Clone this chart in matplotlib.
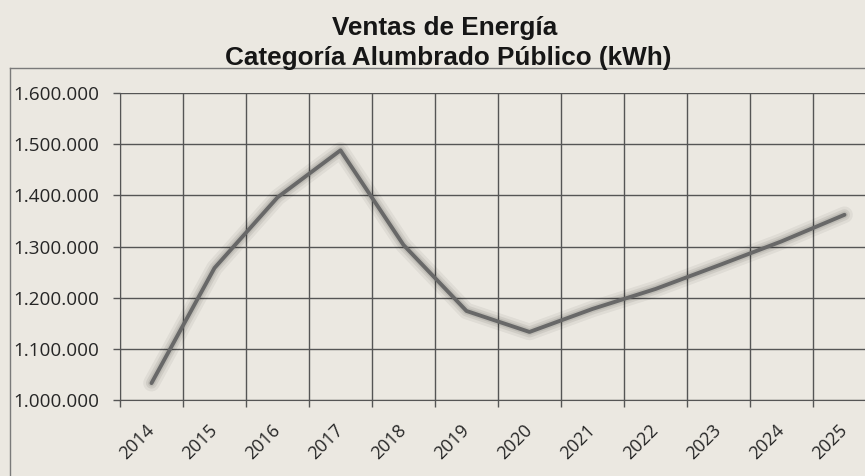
import matplotlib
matplotlib.use("Agg")
import matplotlib.pyplot as plt
from matplotlib.ticker import FuncFormatter, FixedLocator
from matplotlib.lines import Line2D

years = ["2014", "2015", "2016", "2017", "2018", "2019",
         "2020", "2021", "2022", "2023", "2024", "2025"]
ventas_kwh = [1033000, 1258000, 1396000, 1488000, 1303000, 1174000,
              1133000, 1178000, 1217000, 1263000, 1310000, 1362000]
y_ticks = [1000000, 1100000, 1200000, 1300000, 1400000, 1500000, 1600000]
title_lines = ["Ventas de Energía", "Categoría Alumbrado Público (kWh)"]

BG = "#ebe8e1"
GRID = "#555555"
LINE = "#686868"

fig = plt.figure(figsize=(8.65, 4.76), dpi=100, facecolor=BG)
W, H = 865, 476
ax = fig.add_axes([120 / W, 1 - 400 / H, 756 / W, 307 / H])
ax.set_facecolor(BG)

x = list(range(len(years)))
# soft shadow under line
ax.plot(x, ventas_kwh, color="#000000", lw=12, alpha=0.05, solid_capstyle="round", zorder=3)
ax.plot(x, ventas_kwh, color="#000000", lw=8, alpha=0.07, solid_capstyle="round", zorder=3)
ax.plot(x, ventas_kwh, color="#000000", lw=5, alpha=0.08, solid_capstyle="round", zorder=3)
ax.plot(x, ventas_kwh, color=LINE, lw=2.8, solid_capstyle="round", solid_joinstyle="round", zorder=4)

ax.set_xlim(-0.5, len(years) - 0.5)
ax.set_ylim(y_ticks[0], y_ticks[-1])

# y axis
ax.set_yticks(y_ticks)
ax.yaxis.set_major_formatter(FuncFormatter(lambda v, p: f"{int(v):,}".replace(",", ".")))
ax.tick_params(axis="y", length=5, width=1, color=GRID, pad=10,
               labelsize=13.6, labelcolor="#262626")

# x axis: boundaries as major ticks (grid), labels at centers as minor
ax.xaxis.set_major_locator(FixedLocator([i - 0.5 for i in range(len(years) + 1)]))
ax.xaxis.set_major_formatter(FuncFormatter(lambda v, p: ""))
ax.xaxis.set_minor_locator(FixedLocator(x))
ax.set_xticklabels(years, minor=True)
ax.tick_params(axis="x", which="major", length=5, width=1, color=GRID)
ax.tick_params(axis="x", which="minor", length=0, pad=20, labelsize=13, labelcolor="#262626")
for lab in ax.get_xticklabels(minor=True):
    lab.set_rotation(45)
    lab.set_ha("right")
    lab.set_va("center")
    lab.set_rotation_mode("anchor")
    lab.set_fontfamily("Open Sans")
for lab in ax.get_yticklabels():
    lab.set_fontfamily("Open Sans")

ax.grid(True, which="major", color=GRID, lw=1)
ax.set_axisbelow(True)
for s in ax.spines.values():
    s.set_visible(False)
ax.spines["left"].set_visible(True)
ax.spines["left"].set_color(GRID)
ax.spines["bottom"].set_visible(True)
ax.spines["bottom"].set_color(GRID)

# outer chart frame
fig.add_artist(Line2D([10 / W, 1.0], [1 - 68 / H, 1 - 68 / H], color="#7a7a7a", lw=1))
fig.add_artist(Line2D([10 / W, 10 / W], [1 - 68 / H, 0.0], color="#7a7a7a", lw=1))

# title
fig.text(445 / W, 1 - 35 / H, title_lines[0], ha="center", va="baseline",
         fontsize=18.8, fontweight="bold", family="Liberation Sans", color="#161616")
fig.text(448 / W, 1 - 65 / H, title_lines[1], ha="center", va="baseline",
         fontsize=18.8, fontweight="bold", family="Liberation Sans", color="#161616")

fig.savefig("out.png", dpi=100, facecolor=BG)
